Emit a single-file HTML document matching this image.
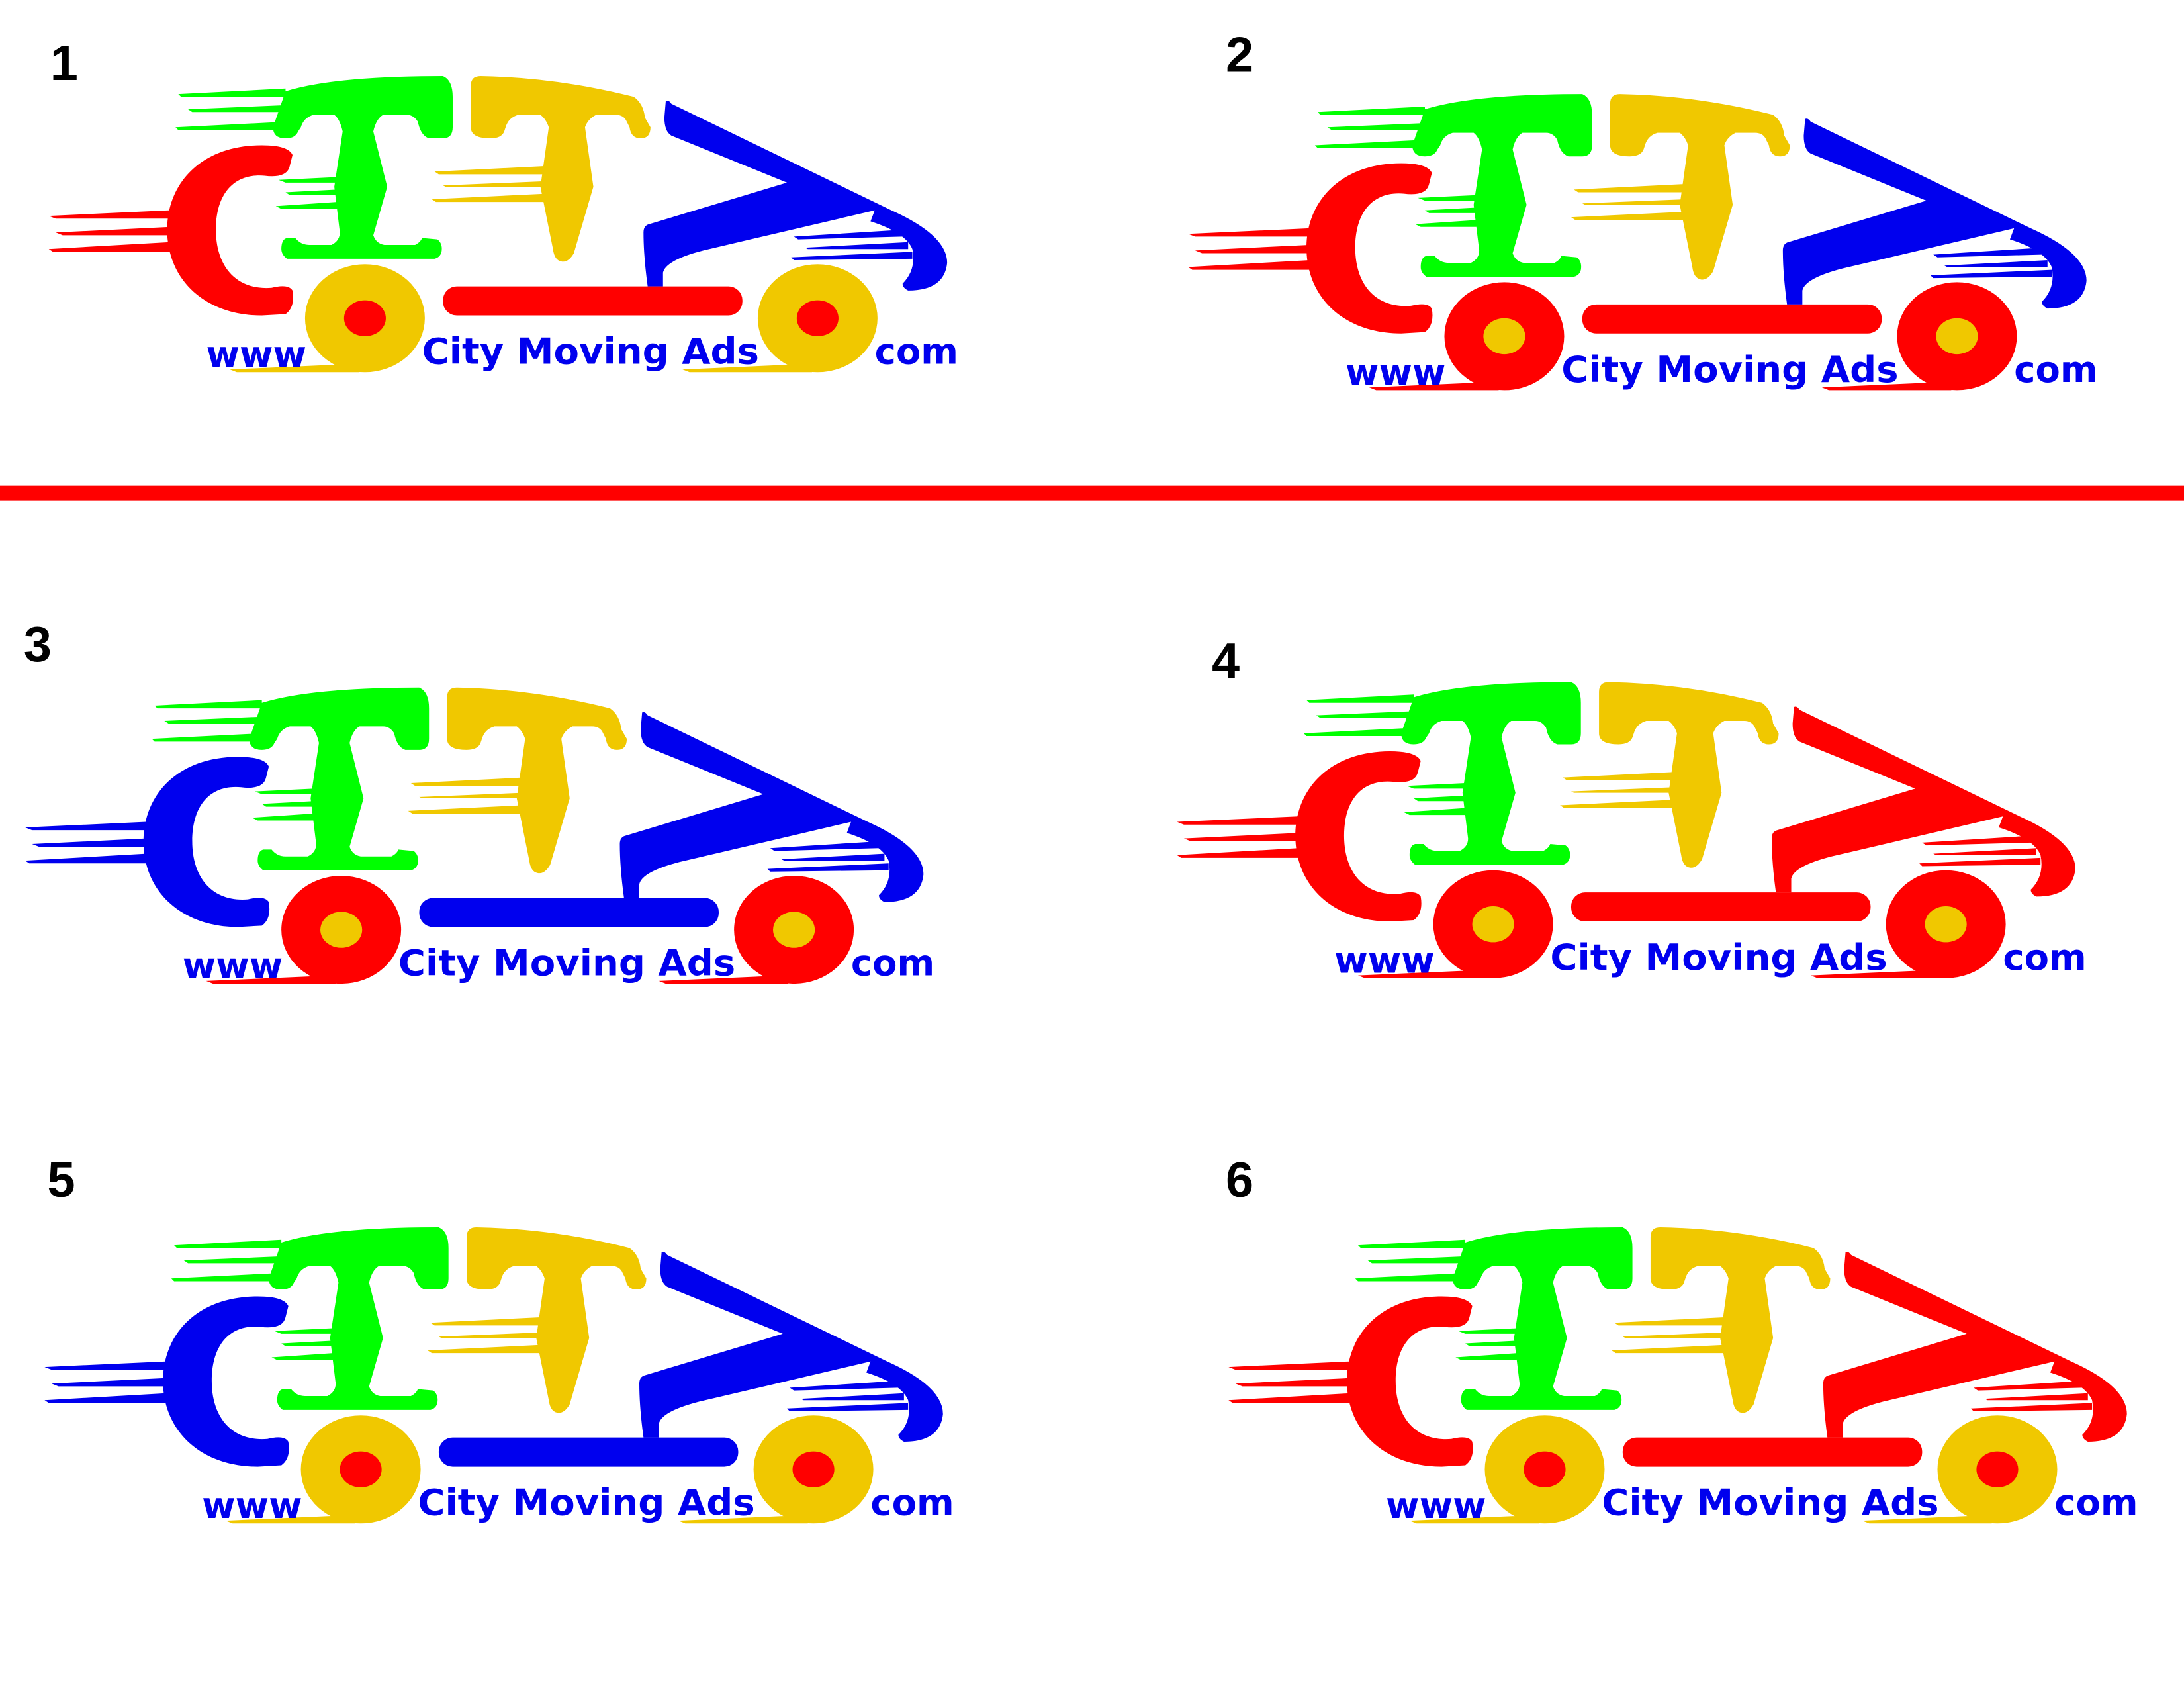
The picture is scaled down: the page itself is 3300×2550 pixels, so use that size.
<!DOCTYPE html>
<html><head><meta charset="utf-8"><style>
html,body{margin:0;padding:0;background:#fff}
svg{display:block}
.num{font-family:"Liberation Sans",sans-serif;font-weight:bold;font-size:36px;fill:#000}
.t{font-family:"DejaVu Sans","Liberation Sans",sans-serif;font-weight:bold;font-size:26px;fill:#0000ee}
</style></head><body>
<svg width="3300" height="2550" viewBox="0 0 1568 1220" preserveAspectRatio="none" xmlns="http://www.w3.org/2000/svg">
<defs>
<g id="logo">
  <g style="fill:var(--c)">
    <polygon points="35,156 122,152 122,158 40,158"/>
    <polygon points="40,168 122,164 122,170 45,170"/>
    <polygon points="35,180 122,175 122,182 38,182"/>
    <path d="M210,112 Q207,105 188,105 C145,105 120,132 120,166 C120,203 148,228 188,228 L205,227 Q212,222 210,210 Q207,205 195,208 C170,210 155,193 155,166 C155,140 168,125 190,127 Q206,129 208,120 Z"/>
  </g>
  <g fill="#00ff00">
    <polygon points="128,68 205,64 205,70 130,70"/>
    <polygon points="135,79 205,76 205,81 138,81"/>
    <polygon points="126,92 205,88 205,94 128,94"/>
    <path d="M205,66 Q240,55 318,55 Q325,58 325,70 L325,92 Q325,100 318,100 L308,100 Q302,98 300,88 Q297,83 292,83 L275,83 Q270,86 268,95 L278,135 L268,170 Q270,176 276,177 L298,177 Q302,175 303,172 L314,173 Q318,176 317,182 Q316,186 312,187 L206,187 Q202,184 202,180 Q202,173 206,172 L212,172 Q216,177 222,177 L238,177 Q244,174 244,168 L240,135 L246,95 Q244,86 240,83 L225,83 Q218,85 216,92 L214,95 Q212,100 205,100 Q196,100 196,92 Z"/>
    <polygon points="200,130 242,128 242,132 205,132"/>
    <polygon points="205,139 242,137 242,141 208,141"/>
    <polygon points="198,149 242,146 242,151 202,151"/>
  </g>
  <g fill="#f0c800">
    <path d="M338,62 Q338,55 345,55 Q400,56 455,70 Q462,75 463,85 L467,92 Q467,100 460,100 Q453,100 452,92 L450,88 Q448,83 442,83 L428,83 Q422,86 420,92 L426,135 L412,183 Q408,190 403,189 Q398,188 397,180 L388,135 L394,92 Q392,86 388,83 L372,83 Q365,85 363,92 L362,95 Q360,100 352,100 Q338,100 338,92 Z"/>
    <polygon points="312,124 392,120 392,126 315,126"/>
    <polygon points="318,134 392,131 392,135 320,135"/>
    <polygon points="310,144 392,140 392,146 313,146"/>
  </g>
  <g style="fill:var(--s)">
    <path d="M478,73 Q480,72 482,75 L640,152 Q680,170 680,190 Q678,210 652,210 Q648,208 648,205 Q658,195 655,180 Q650,168 625,160 L628,152 L505,181 Q478,188 476,197 L476,207 L465,207 Q462,185 462,168 Q462,163 466,162 L565,132 L482,98 Q477,95 477,85 Z"/>
    <polygon points="570,171 648,166 648,171 573,173"/>
    <polygon points="578,179 652,175 652,180 580,180"/>
    <polygon points="568,186 655,182 655,187 570,188"/>
  </g>
  <rect x="318" y="207" width="215" height="21" rx="10" style="fill:var(--c)"/>
  <g style="fill:var(--w)">
    <polygon points="165,267 255,263 258,269 170,269"/>
    <polygon points="490,267 580,263 583,269 495,269"/>
    <ellipse cx="262" cy="230" rx="43" ry="39"/>
    <ellipse cx="587" cy="230" rx="43" ry="39"/>
  </g>
  <g style="fill:var(--i)">
    <ellipse cx="262" cy="230" rx="15" ry="13"/>
    <ellipse cx="587" cy="230" rx="15" ry="13"/>
  </g>
  <text class="t" x="148" y="265" textLength="72" lengthAdjust="spacingAndGlyphs">www</text>
  <text class="t" x="303" y="263" textLength="242" lengthAdjust="spacingAndGlyphs">City Moving Ads</text>
  <text class="t" x="628" y="263" textLength="60" lengthAdjust="spacingAndGlyphs">com</text>
</g>
</defs>
<text class="num" x="36" y="58">1</text>
<text class="num" x="880" y="52">2</text>
<text class="num" x="17" y="478">3</text>
<text class="num" x="870" y="490">4</text>
<text class="num" x="34" y="865">5</text>
<text class="num" x="880" y="865">6</text>
<rect x="0" y="351" width="1568" height="11" fill="#ff0000"/>
<use href="#logo" style="--c:#ff0000;--s:#0000ee;--w:#f0c800;--i:#ff0000"/>
<use href="#logo" transform="translate(818,13)" style="--c:#ff0000;--s:#0000ee;--w:#ff0000;--i:#f0c800"/>
<use href="#logo" transform="translate(-17,442)" style="--c:#0000ee;--s:#0000ee;--w:#ff0000;--i:#f0c800"/>
<use href="#logo" transform="translate(810,438)" style="--c:#ff0000;--s:#ff0000;--w:#ff0000;--i:#f0c800"/>
<use href="#logo" transform="translate(-3,832)" style="--c:#0000ee;--s:#0000ee;--w:#f0c800;--i:#ff0000"/>
<use href="#logo" transform="translate(847,832)" style="--c:#ff0000;--s:#ff0000;--w:#f0c800;--i:#ff0000"/>
</svg>
</body></html>
